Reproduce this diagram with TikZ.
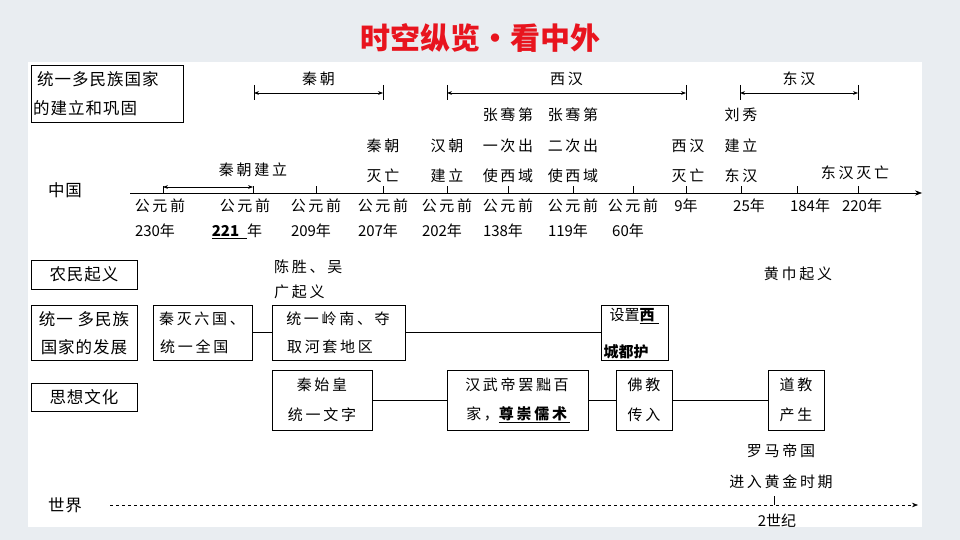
\documentclass[tikz,border=0pt]{standalone}
\usepackage{fontspec}
\setmainfont{Noto Sans CJK SC}
\usetikzlibrary{arrows.meta}
\definecolor{bgc}{HTML}{E9EDF1}
\definecolor{ttl}{HTML}{E8141E}
\tikzset{
  t/.style={font=\fontsize{15}{15}\selectfont\addfontfeature{LetterSpace=18}, inner sep=0pt, anchor=center},
  tn/.style={font=\fontsize{15}{15}\selectfont, inner sep=0pt, anchor=center},
  lbl/.style={font=\fontsize{16.5}{16}\selectfont\addfontfeature{LetterSpace=6}, inner sep=0pt},
  bx/.style={draw, line width=0.8pt},
  ln/.style={line width=0.6pt},
  br/.style={line width=0.6pt, {Stealth[length=5pt]}-{Stealth[length=5pt]}},
}
\begin{document}
\begin{tikzpicture}[x=1pt,y=-1pt]
\fill[bgc] (0,0) rectangle (960,540);
\fill[white] (28,62) rectangle (922,527);
\useasboundingbox (0,0) rectangle (960,540);
\node[font=\fontsize{30}{30}\selectfont\bfseries, text=ttl] (title) at (480,38) {时空纵览·看中外};
% top-left box
\draw[bx] (31,65) rectangle (183,122);
\node[lbl,anchor=west] (h1) at (37,79) {统一多民族国家};
\node[lbl,anchor=west] (h2) at (33,108) {的建立和巩固};
% dynasty brackets
\foreach \a/\b/\n/\nm in {254/383/秦朝/qin,447/686/西汉/xh,740/858/东汉/dh}{
  \coordinate (\nm L) at (\a,93); \coordinate (\nm R) at (\b,93);
  \draw[ln] (\a,85) -- (\a,100); \draw[ln] (\b,85) -- (\b,100);
  \draw[br] (\nm L) -- (\nm R);
  \node[t] (\nm T) at ({(\a+\b)/2},79) {\n};
}
% axis
\coordinate (ax0) at (130,193); \coordinate (ax1) at (922,193);
\draw[ln,-{Stealth[length=7pt]}] (ax0) -- (ax1);
\foreach \x in {163,253,316,383,447,508,573,633,686,741,797,858}{\draw[ln] (\x,193) -- (\x,186);}
\node[lbl] (zg) at (65,190) {中国};
\coordinate (qa) at (163,187); \coordinate (qb) at (253,187);
\draw[br] (qa) -- (qb);
\node[t] (qjl) at (253,170) {秦朝建立};
% labels above axis
\node[t] (a1) at (383,146) {秦朝}; \node[t] (a2) at (383,176) {灭亡};
\node[t] (b1) at (447,146) {汉朝}; \node[t] (b2) at (447,176) {建立};
\node[t] (c1) at (508,115) {张骞第}; \node[t] (c2) at (508,146) {一次出}; \node[t] (c3) at (508,176) {使西域};
\node[t] (d1) at (573,115) {张骞第}; \node[t] (d2) at (573,146) {二次出}; \node[t] (d3) at (573,176) {使西域};
\node[t] (e1) at (688,146) {西汉}; \node[t] (e2) at (688,176) {灭亡};
\node[t] (f1) at (741,115) {刘秀}; \node[t] (f2) at (741,146) {建立}; \node[t] (f3) at (741,176) {东汉};
\node[t] (g1) at (855,173) {东汉灭亡};
% below axis
\foreach \x/\y/\nm in {160/230/p1,316/209/p3,383/207/p4,447/202/p5,508/138/p6,573/119/p7,633/60/p8}{
  \node[t] (\nm a) at (\x,206) {公元前};
  \node[tn] (\nm b) at (\x-5,231) {\y 年};
}
\node[t] (p2a) at (245,206) {公元前};
\node[tn] (p2b) at (237,231) {\underline{\textbf{221}\hspace{8pt}}年};
\node[tn] (q1) at (686,206) {9年};
\node[tn] (q2) at (749,206) {25年};
\node[tn] (q3) at (810,206) {184年};
\node[tn] (q4) at (862,206) {220年};
% 农民起义
\draw[bx] (31,260) rectangle (137,289);
\node[lbl] (nm) at (84,274.5) {农民起义};
\node[t,anchor=west] (cs1) at (274,267) {陈胜、吴};
\node[t,anchor=west] (cs2) at (274,292) {广起义};
\node[t] (hj) at (798,274) {黄巾起义};
% 统一多民族国家的发展
\draw[bx] (31,305) rectangle (137,360);
\node[lbl] (fz1) at (84,319) {统一 多民族};
\node[lbl] (fz2) at (84,347) {国家的发展};
\node[bx,minimum width=99pt,minimum height=55pt] (r1) at (202.5,332.5) {};
\node[t] at (202,319) {秦灭六国、}; \node[t,anchor=west] at (160,347) {统一全国};
\node[bx,minimum width=133pt,minimum height=55pt] (r2) at (338.5,332.5) {};
\node[t] at (338,319) {统一岭南、夺}; \node[t] at (330,347) {取河套地区};
\node[bx,minimum width=67pt,minimum height=55pt] (r3) at (634.5,332.5) {};
\node[tn] at (634,316) {设置\underline{\textbf{西}\hspace{4pt}}};
\node[tn] at (629,353) {\underline{\textbf{城都护}\hspace{6pt}}};
\draw[ln] (r1) -- (r2); \draw[ln] (r2) -- (r3);
% 思想文化
\draw[bx] (31,383) rectangle (137,411);
\node[lbl] (sx) at (84,397) {思想文化};
\node[bx,minimum width=100pt,minimum height=60pt] (s1) at (322,400) {};
\node[t] at (322,385) {秦始皇}; \node[t] at (322,415) {统一文字};
\node[bx,minimum width=141pt,minimum height=60pt] (s2) at (517.5,400) {};
\node[t] at (517,385) {汉武帝罢黜百}; \node[t] at (518,415) {家，\underline{\textbf{尊崇儒术}}};
\node[bx,minimum width=56pt,minimum height=60pt] (s3) at (644,400) {};
\node[t] at (644,385) {佛教}; \node[t] at (644,415) {传入};
\node[bx,minimum width=56pt,minimum height=60pt] (s4) at (796,400) {};
\node[t] at (796,385) {道教}; \node[t] at (796,415) {产生};
\draw[ln] (s1) -- (s2); \draw[ln] (s2) -- (s3); \draw[ln] (s3) -- (s4);
\node[t] (lm1) at (781,451) {罗马帝国};
\node[t] (lm2) at (781,482) {进入黄金时期};
% world
\node[lbl] (sj) at (65,505) {世界};
\coordinate (w0) at (110,505); \coordinate (w1) at (918,505);
\draw[ln,dashed,-{Stealth[length=6pt]}] (w0) -- (w1);
\draw[ln] (774,505) -- (774,496);
\node[tn] (ej) at (777,521) {2世纪};
\end{tikzpicture}
\end{document}
